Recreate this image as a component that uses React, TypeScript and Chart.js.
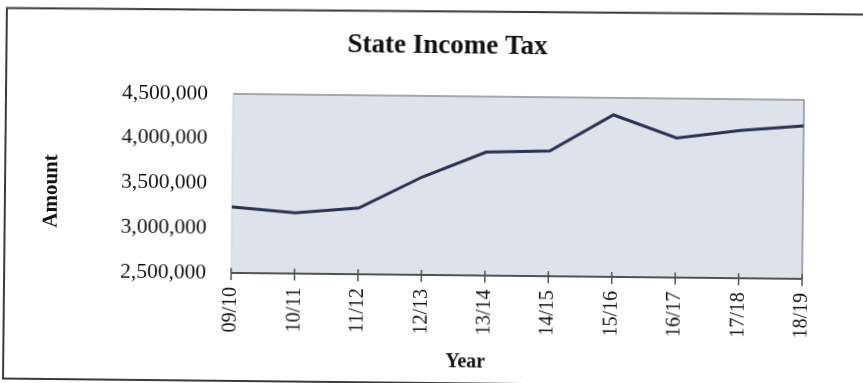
import React, { useEffect, useRef } from "react";
import { Chart, registerables } from "chart.js";

Chart.register(...registerables);

const categories = ["09/10", "10/11", "11/12", "12/13", "13/14", "14/15", "15/16", "16/17", "17/18", "18/19"];
const amounts = [3237000, 3178000, 3240000, 3595000, 3880000, 3900000, 4310000, 4060000, 4150000, 4210000];
const yTickValues = [2500000, 3000000, 3500000, 4000000, 4500000];
const chartTitle = "State Income Tax";
const yAxisTitle = "Amount";
const xAxisTitle = "Year";

const PAD = 20;
const W = 863 + 2 * PAD;
const H = 383 + 2 * PAD;
const SERIF = "'Liberation Serif', 'Times New Roman', serif";

const decorPlugin = {
  id: "decor",
  beforeDraw(chart: any) {
    const { ctx, chartArea } = chart;
    const { left, right, top, bottom } = chartArea;
    ctx.save();
    // outer frame
    ctx.strokeStyle = "#3a3a3a";
    ctx.lineWidth = 2;
    ctx.beginPath();
    ctx.moveTo(W, 30);
    ctx.lineTo(25, 32.5);
    ctx.lineTo(25, 403);
    ctx.lineTo(W, 403);
    ctx.stroke();
    // plot background
    ctx.fillStyle = "#dee3eb";
    ctx.fillRect(left, top, right - left, bottom - top);
    ctx.strokeStyle = "#a4a7ab";
    ctx.lineWidth = 2;
    ctx.beginPath();
    ctx.moveTo(left, top);
    ctx.lineTo(right, top);
    ctx.lineTo(right, bottom);
    ctx.stroke();
    ctx.strokeStyle = "#cfd3da";
    ctx.lineWidth = 1;
    ctx.beginPath();
    ctx.moveTo(left, top);
    ctx.lineTo(left, bottom);
    ctx.stroke();
    ctx.restore();
  },
  afterDraw(chart: any) {
    const { ctx, chartArea, scales } = chart;
    const { left, right, bottom } = chartArea;
    ctx.save();
    // x axis line and cross ticks
    ctx.strokeStyle = "#4d5552";
    ctx.lineWidth = 2;
    ctx.beginPath();
    ctx.moveTo(left, bottom);
    ctx.lineTo(right, bottom);
    ctx.stroke();
    ctx.lineWidth = 1.5;
    const xs = scales.x;
    xs.ticks.forEach((_t: any, i: number) => {
      const px = xs.getPixelForTick(i);
      ctx.beginPath();
      ctx.moveTo(px, bottom - 5);
      ctx.lineTo(px, bottom + 7);
      ctx.stroke();
    });
    // titles
    ctx.fillStyle = "#111";
    ctx.textAlign = "center";
    ctx.textBaseline = "alphabetic";
    ctx.font = `bold 27px ${SERIF}`;
    ctx.fillText(chartTitle, 466, 73);
    ctx.font = `bold 20px ${SERIF}`;
    ctx.fillText(xAxisTitle, 487, 387);
    ctx.save();
    ctx.translate(77, 215);
    ctx.rotate(-Math.PI / 2);
    ctx.font = `bold 21px ${SERIF}`;
    ctx.fillText(yAxisTitle, 0, 0);
    ctx.restore();
    ctx.restore();
  },
};

export default function App() {
  const ref = useRef<HTMLCanvasElement | null>(null);

  useEffect(() => {
    document.body.style.margin = "0";
    document.body.style.overflow = "hidden";
    const canvas = ref.current;
    if (!canvas) return;
    const chart = new Chart(canvas, {
      type: "line",
      data: {
        labels: categories,
        datasets: [
          {
            data: amounts,
            borderColor: "#29324f",
            borderWidth: 3,
            pointRadius: 0,
            tension: 0,
            fill: false,
          },
        ],
      },
      options: {
        responsive: false,
        animation: false,
        devicePixelRatio: 1,
        layout: { padding: { top: 116, right: 80, left: 0, bottom: 0 } },
        plugins: { legend: { display: false }, tooltip: { enabled: false }, title: { display: false } },
        scales: {
          x: {
            type: "category",
            offset: false,
            grid: { display: false, drawTicks: false },
            border: { display: false },
            ticks: {
              autoSkip: false,
              maxRotation: 90,
              minRotation: 90,
              padding: 14,
              color: "#111",
              font: { family: SERIF, size: 20 },
            },
            afterFit: (s: any) => {
              s.height = 128;
            },
          },
          y: {
            min: 2500000,
            max: 4500000,
            grid: { display: false, drawTicks: false },
            border: { display: false },
            afterBuildTicks: (s: any) => {
              s.ticks = yTickValues.map((v) => ({ value: v }));
            },
            ticks: {
              padding: 25,
              color: "#111",
              font: { family: SERIF, size: 21.5 },
              callback: (v: any) => Number(v).toLocaleString("en-US"),
            },
            afterFit: (s: any) => {
              s.width = 252;
            },
          },
        },
      },
      plugins: [decorPlugin],
    });
    return () => chart.destroy();
  }, []);

  return (
    <canvas
      ref={ref}
      width={W}
      height={H}
      style={{
        position: "fixed",
        left: -PAD,
        top: -PAD,
        width: W,
        height: H,
        transform: "rotate(0.6deg)",
        transformOrigin: "50% 50%",
        background: "#fff",
      }}
    />
  );
}
